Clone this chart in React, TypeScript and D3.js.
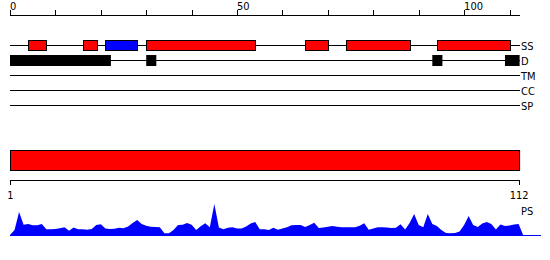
import React from "react";
import * as d3 from "d3";

const LENGTH = 112;
const axisTicks = [0, 10, 20, 30, 40, 50, 60, 70, 80, 90, 100, 110];
const axisLabels = [0, 50, 100];

// Secondary structure segments [start, end]
const ssHelix: [number, number][] = [
  [4, 8],
  [16, 19],
  [30, 54],
  [65, 70],
  [74, 88],
  [94, 110],
];
const ssStrand: [number, number][] = [[21, 28]];

// Disorder segments
const disorder: [number, number][] = [
  [0, 22],
  [30, 32],
  [93, 95],
  [109, 112],
];

const trackNames = ["SS", "D", "TM", "CC", "SP"];

const domainSegments: [number, number][] = [[0, 112]];

// PS profile, residues 1..112
const psValues = [
  5, 23, 10.3, 11, 9.7, 9.8, 11, 5.7, 5.7, 6, 6.8, 7.7, 4.3, 7.5, 5.7, 5.7, 5.3, 6, 10, 10.7,
  6.5, 5.9, 6.3, 7.3, 6.7, 8.5, 12, 15, 11, 9.3, 8.3, 8, 7.7, 1.7, 1.7, 5, 10, 10.3, 12, 10.3,
  5, 8.7, 11.7, 7.7, 31, 7.6, 5.8, 7.3, 7.8, 6.5, 6.5, 8.5, 11.5, 13, 5.7, 5.7, 5, 7.3, 5.3, 6.4,
  7.7, 9.7, 10, 10, 8, 10, 12.3, 7, 7.5, 8.2, 9, 8.2, 7.7, 7.7, 7.7, 7.7, 9.3, 11.7, 5.2, 6.5,
  7.7, 7.7, 7.5, 7, 7.2, 10.7, 5.5, 12, 21, 10, 7.7, 21, 11, 9, 5, 2, 1.7, 2, 3.5, 10,
  19, 10, 8, 11.5, 13, 11, 5.5, 10.5, 9, 9.5, 10.5, 11,
];

const FONT = "'DejaVu Sans', sans-serif";

export default function App() {
  const x = d3.scaleLinear().domain([0, LENGTH]).range([10, 518.6]);
  const xb = d3.scaleLinear().domain([1, LENGTH]).range([10, 518.6]);
  const y = d3.scaleLinear().domain([0, 31]).range([235, 204]);

  const trackY = [45, 60, 75, 90, 105];
  const lineEnd = 520;
  const labelX = 521;

  const pts: [number, number][] = [[0, 0]];
  psValues.forEach((v, i) => pts.push([i + 1, v]));
  pts.push([LENGTH + 1, 0]);

  const area = d3
    .area<[number, number]>()
    .x((d) => x(d[0]))
    .y0(y(0))
    .y1((d) => y(d[1]));

  const textStyle: React.CSSProperties = {
    fontFamily: FONT,
    fontSize: 11,
    fontStretch: "condensed",
  };

  return (
    <svg
      width={550}
      height={260}
      style={{ position: "absolute", left: 0, top: 0, background: "#fff" }}
    >
      {/* top axis */}
      <line x1={10} x2={lineEnd} y1={15.5} y2={15.5} stroke="#000" />
      {axisTicks.map((t) => (
        <line key={t} x1={Math.round(x(t)) + 0.5} x2={Math.round(x(t)) + 0.5} y1={10} y2={15} stroke="#000" />
      ))}
      {axisLabels.map((t) => (
        <text key={t} x={x(t)} y={10} style={textStyle}>
          {t}
        </text>
      ))}

      {/* tracks */}
      {trackNames.map((n, i) => (
        <g key={n}>
          <line x1={10} x2={lineEnd} y1={trackY[i] + 0.5} y2={trackY[i] + 0.5} stroke="#000" />
          <text x={labelX} y={trackY[i] + 4.5} style={textStyle}>
            {n}
          </text>
        </g>
      ))}

      {ssHelix.map(([s, e], i) => (
        <rect
          key={"h" + i}
          x={Math.round(x(s)) + 0.5}
          y={40.5}
          width={Math.round(x(e) - x(s))}
          height={10}
          fill="#ff0000"
          stroke="#000"
        />
      ))}
      {ssStrand.map(([s, e], i) => (
        <rect
          key={"s" + i}
          x={Math.round(x(s)) + 0.5}
          y={40.5}
          width={Math.round(x(e) - x(s))}
          height={10}
          fill="#0000ff"
          stroke="#000"
        />
      ))}
      {disorder.map(([s, e], i) => (
        <rect
          key={"d" + i}
          x={x(s)}
          y={55}
          width={x(e) - x(s) + 1}
          height={11}
          fill="#000"
        />
      ))}

      {/* domain bar */}
      {domainSegments.map(([s, e], i) => (
        <rect
          key={"dom" + i}
          x={x(s) + 0.5}
          y={150.5}
          width={x(e) - x(s) + 0.5}
          height={20}
          fill="#ff0000"
          stroke="#000"
        />
      ))}

      {/* bottom axis */}
      <line x1={10} x2={x(LENGTH) + 1} y1={180.5} y2={180.5} stroke="#000" />
      <line x1={10.5} x2={10.5} y1={180} y2={185} stroke="#000" />
      <line x1={Math.round(xb(LENGTH)) + 0.5} x2={Math.round(xb(LENGTH)) + 0.5} y1={180} y2={185} stroke="#000" />
      <text x={xb(1) + 0.5} y={199} textAnchor="middle" style={textStyle}>
        1
      </text>
      <text x={xb(LENGTH) + 0.5} y={199} textAnchor="middle" style={textStyle}>
        {LENGTH}
      </text>
      <text x={labelX} y={215} style={textStyle}>
        PS
      </text>

      {/* PS profile */}
      <line x1={10} x2={541} y1={235.5} y2={235.5} stroke="#0000ff" />
      <path d={area(pts) || ""} fill="#0000ff" />
    </svg>
  );
}
